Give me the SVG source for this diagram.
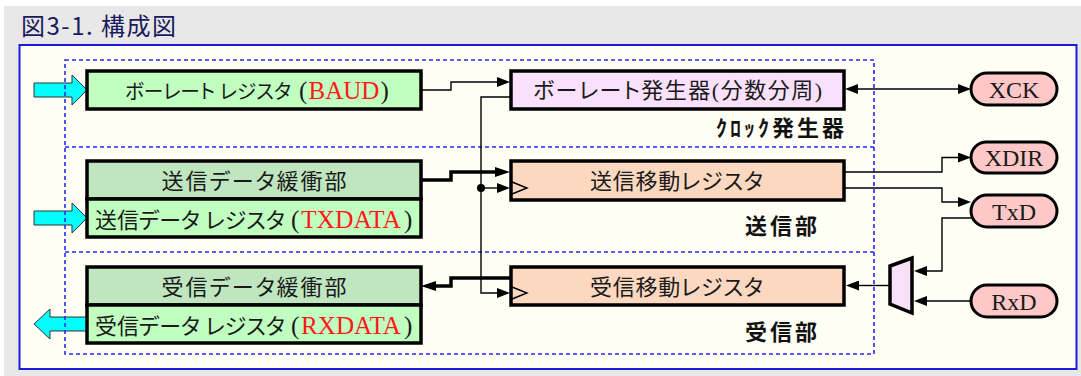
<svg xmlns="http://www.w3.org/2000/svg" width="1081" height="376" viewBox="0 0 1081 376">
<style>
.box{stroke:#000;stroke-width:3.5}
.gr{fill:#c0ffc0}
.gh{fill:#bfe6bf}
.pk{fill:#f9e0fb}
.or{fill:#fdd8c0}
.pill{fill:#ffc8c8;stroke:#000;stroke-width:3}
.t{font-family:"Liberation Serif","Noto Sans CJK JP",serif;font-size:22px;fill:#1a1a1a;text-anchor:middle;font-feature-settings:"palt"}
.tl{font-family:"Liberation Serif","Noto Sans CJK JP",serif;font-size:22px;fill:#1a1a1a;font-feature-settings:"palt"}
.sm{font-size:20px}
.lat{font-size:25px}
.red{fill:#ff1a1a}
.lbl{font-family:"Noto Sans CJK JP",sans-serif;font-weight:700;font-size:22px;letter-spacing:3px;fill:#111}
.pt{font-family:"Liberation Serif",serif;font-size:24px;text-anchor:middle;fill:#1a1a1a}
.ln{fill:none;stroke:#000;stroke-width:1.4}
.bl{fill:none;stroke:#000;stroke-width:3.5}
.cy{fill:#00ffff;stroke:#333;stroke-width:1}
.dash{fill:none;stroke:#2828ff;stroke-width:1.6;stroke-dasharray:4 3}
</style>
<defs>
<marker id="a" viewBox="0 0 13 10" refX="1" refY="5" markerWidth="13" markerHeight="10" markerUnits="userSpaceOnUse" orient="auto-start-reverse"><path d="M0,0 L13,5 L0,10 z" fill="#000"/></marker>
<marker id="ab" viewBox="0 0 15 10" refX="1" refY="5" markerWidth="15" markerHeight="10" markerUnits="userSpaceOnUse" orient="auto-start-reverse"><path d="M0,0 L15,5 L0,10 z" fill="#000"/></marker>
</defs>
<rect x="4" y="6" width="1077" height="370" fill="#e8e8e8"/>
<text x="21" y="35" font-family="'Noto Sans CJK JP',sans-serif" font-size="24" font-weight="400" letter-spacing="1.5" fill="#1b1b5e">図3-1. 構成図</text>
<rect x="19.5" y="45" width="1057" height="324" fill="#fffff6" stroke="#1a1adc" stroke-width="2"/>

<g id="inputs">
<polygon class="cy" points="34,83 72,83 72,75 87,90 72,105 72,97 34,97"/>
<polygon class="cy" points="34,211 72,211 72,203 87,218 72,233 72,225 34,225"/>
<polygon class="cy" points="87,317 50,317 50,309 34,324 50,339 50,331 87,331"/>
</g>

<g id="sections">
<rect class="dash" x="65" y="60" width="809" height="294"/>
<line class="dash" x1="65" y1="147" x2="874" y2="147"/>
<line class="dash" x1="65" y1="252" x2="874" y2="252"/>
<text class="lbl" x="716" y="136">ｸﾛｯｸ発生器</text>
<text class="lbl" x="745" y="234">送信部</text>
<text class="lbl" x="745" y="340">受信部</text>
</g>

<g id="baud">
<rect class="box gr" x="87" y="71" width="334" height="38"/>
<text class="tl sm" x="125" y="98.5" textLength="166" lengthAdjust="spacingAndGlyphs">ボーレート レジスタ</text>
<text class="tl lat" x="299" y="98.5">(</text>
<text class="tl lat red" x="308.5" y="98.5">BAUD</text>
<text class="tl lat" x="380.5" y="98.5">)</text>
</g>

<g id="baudgen">
<rect class="box pk" x="511" y="71" width="333" height="38"/>
<text class="t" x="677.5" y="98" textLength="289" lengthAdjust="spacing">ボーレート発生器(分数分周)</text>
</g>

<g id="txbuf">
<rect class="box gh" x="87" y="161" width="334" height="38"/>
<rect class="box gr" x="87" y="199" width="334" height="38"/>
<text class="t" x="254" y="188.5" textLength="185" lengthAdjust="spacing">送信データ緩衝部</text>
<text class="tl" x="95" y="227.5" textLength="190" lengthAdjust="spacingAndGlyphs">送信データ レジスタ</text>
<text class="tl lat" x="291" y="227.5">(</text>
<text class="tl lat red" x="301" y="227.5" textLength="100" lengthAdjust="spacingAndGlyphs">TXDATA</text>
<text class="tl lat" x="404" y="227.5">)</text>
</g>

<g id="txshift">
<rect class="box or" x="511" y="161" width="333" height="39"/>
<polyline class="ln" points="512,182 527,188 512,194"/>
<text class="t" x="676.5" y="189" textLength="173" lengthAdjust="spacing">送信移動レジスタ</text>
</g>

<g id="rxbuf">
<rect class="box gh" x="87" y="267" width="334" height="38"/>
<rect class="box gr" x="87" y="305" width="334" height="38"/>
<text class="t" x="254" y="294.5" textLength="185" lengthAdjust="spacing">受信データ緩衝部</text>
<text class="tl" x="95" y="333.5" textLength="190" lengthAdjust="spacingAndGlyphs">受信データ レジスタ</text>
<text class="tl lat" x="291" y="333.5">(</text>
<text class="tl lat red" x="301" y="333.5" textLength="100" lengthAdjust="spacingAndGlyphs">RXDATA</text>
<text class="tl lat" x="404" y="333.5">)</text>
</g>

<g id="rxshift">
<rect class="box or" x="511" y="267" width="333" height="38"/>
<polyline class="ln" points="512,287 527,293 512,299"/>
<text class="t" x="676.5" y="294.5" textLength="173" lengthAdjust="spacing">受信移動レジスタ</text>
</g>

<g id="mux">
<polygon points="890,266 912,258 912,313 890,304" fill="#f8e0f8" stroke="#000" stroke-width="3.5" stroke-linejoin="miter"/>
</g>

<g id="xck">
<rect class="pill" x="971" y="73" width="86" height="32" rx="16"/>
<text class="pt" x="1014" y="97.5">XCK</text>
</g>
<g id="xdir">
<rect class="pill" x="971" y="142" width="86" height="31" rx="15.5"/>
<text class="pt" x="1014" y="166">XDIR</text>
</g>
<g id="txd">
<rect class="pill" x="971" y="195" width="86" height="32" rx="16"/>
<text class="pt" x="1014" y="219.5">TxD</text>
</g>
<g id="rxd">
<rect class="pill" x="971" y="285" width="86" height="32" rx="16"/>
<text class="pt" x="1014" y="309.5">RxD</text>
</g>

<g id="connectors">
<path class="ln" d="M421,90 H451 V82 H498" marker-end="url(#a)"/>
<path class="ln" d="M511,97 H481 V293 H498" marker-end="url(#a)"/>
<path class="ln" d="M481,188 H498" marker-end="url(#a)"/>
<circle cx="481" cy="188" r="4" fill="#000"/>
<path class="ln" d="M857,89 H959" marker-start="url(#a)" marker-end="url(#a)"/>
<path class="bl" d="M421,180 H451 V172 H496" marker-end="url(#ab)"/>
<path class="bl" d="M511,278 H451 V286 H435" marker-end="url(#ab)"/>
<path class="ln" d="M844,172 H942 V157.5 H959" marker-end="url(#a)"/>
<path class="ln" d="M844,188 H942 V202 H959" marker-end="url(#a)"/>
<path class="ln" d="M971,218 H942 V271 H926" marker-end="url(#a)"/>
<path class="ln" d="M971,301 H926" marker-end="url(#a)"/>
<path class="ln" d="M890,285.5 H858" marker-end="url(#a)"/>
</g>
</svg>
